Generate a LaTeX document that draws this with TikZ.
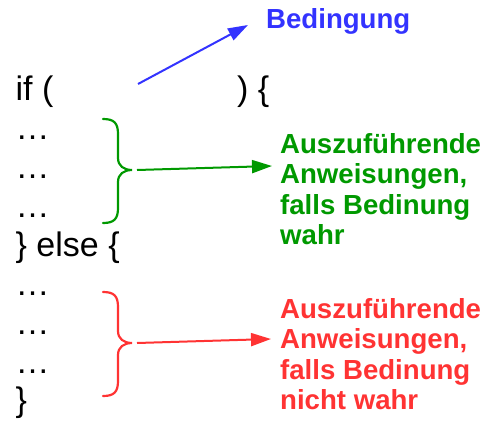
\documentclass[tikz,border=0pt]{standalone}
\usepackage{fontspec}
\setmainfont{Liberation Sans}
\usetikzlibrary{arrows.meta}
\definecolor{cblue}{HTML}{3333FF}
\definecolor{cgreen}{HTML}{009900}
\definecolor{cred}{HTML}{FF3333}
\begin{document}
\begin{tikzpicture}[x=1pt,y=1pt,
  code/.style={anchor=base west,inner sep=0pt,font=\fontsize{34}{38}\selectfont},
  lbl/.style={anchor=base west,inner sep=0pt,align=left,font=\fontsize{27.6}{30.5}\selectfont\bfseries},
  arr/.style={line width=2pt,-{Triangle[length=20pt,width=13pt]}},
  brc/.style={line width=2.2pt,line cap=round}]
\useasboundingbox (0,0) rectangle (487,-423);
% code lines
\node[code] (l1) at (15.5,-100) {if (};
\node[code] (l1b) at (237,-100) {) \{};
\node[code] (l2) at (15.5,-139) {…};
\node[code] (l3) at (15.5,-178) {…};
\node[code] (l4) at (15.5,-217) {…};
\node[code] (l5) at (15.5,-256) {\} else \{};
\node[code] (l6) at (15.5,-295) {…};
\node[code] (l7) at (15.5,-334) {…};
\node[code] (l8) at (15.5,-373) {…};
\node[code] (l9) at (15.5,-411) {\}};
% labels (base = last line)
\node[lbl,text=cblue] (bed) at (266,-28) {Bedingung};
\node[lbl,text=cgreen] (gl) at (280,-244.5) {Auszuführende\\Anweisungen,\\falls Bedinung\\wahr};
\node[lbl,text=cred] (rl) at (280,-409.5) {Auszuführende\\Anweisungen,\\falls Bedinung\\nicht wahr};
% braces
\draw[brc,cgreen] (103,-119) .. controls (114,-119) and (118,-123) .. (118,-134)
  -- (118,-158) .. controls (118,-166) and (124,-170) .. (132,-170)
  .. controls (124,-170) and (118,-174) .. (118,-182)
  -- (118,-208) .. controls (118,-219) and (114,-223) .. (103,-223);
\draw[brc,cred] (103,-292) .. controls (114,-292) and (118,-296) .. (118,-307)
  -- (118,-331) .. controls (118,-339) and (124,-343) .. (132,-343)
  .. controls (124,-343) and (118,-347) .. (118,-355)
  -- (118,-381) .. controls (118,-392) and (114,-396) .. (103,-396);
% connector coordinates
\coordinate (bs) at (138,-84);
\coordinate (be) at (248,-25);
\coordinate (gs) at (137,-170);
\coordinate (ge) at (272,-166);
\coordinate (rs) at (137,-343);
\coordinate (re) at (271,-339);
\draw[arr,cblue] (bs) -- (be);
\draw[arr,cgreen] (gs) -- (ge);
\draw[arr,cred] (rs) -- (re);
\end{tikzpicture}
\end{document}
